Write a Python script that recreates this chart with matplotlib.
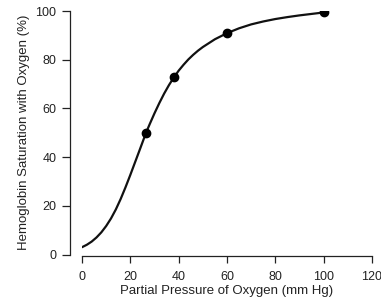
import matplotlib
matplotlib.use("Agg")
import matplotlib.pyplot as plt

# Curve
curve_x = [0, 2, 4, 6, 8, 10, 12, 14, 16, 18, 20, 22, 24, 26.5, 28, 30, 32, 34, 36, 38,
           40, 42, 44, 46, 48, 50, 55, 60, 65, 70, 75, 80, 85, 90, 95, 100]
curve_y = [3, 4, 5.3, 7.0, 9.1, 11.7, 14.8, 18.5, 22.8, 27.6, 32.7, 38.0, 43.3, 50, 53.5, 58, 62.2, 66.1, 69.6, 72.7,
           75.5, 77.9, 80.1, 82.0, 83.7, 85.2, 88.4, 90.9, 92.9, 94.5, 95.7, 96.7, 97.5, 98.2, 98.8, 99.4]

# Marked points
pts_x = [26.5, 38, 60, 100]
pts_y = [50, 72.8, 90.9, 99.4]

xticks = [0, 20, 40, 60, 80, 100, 120]
yticks = [0, 20, 40, 60, 80, 100]

plt.rcParams['font.family'] = ['Liberation Sans', 'DejaVu Sans']
col = '#222222'

fig = plt.figure(figsize=(3.81, 3.03), dpi=100)
ax = fig.add_axes([82/381, (303-254.5)/303, (372-82)/381, (254.5-11)/303])

ax.plot(curve_x, curve_y, color='#111111', lw=1.6, solid_capstyle='round', solid_joinstyle='round')
ax.plot(pts_x, pts_y, 'o', color='#000000', ms=6)

ax.set_xlim(0, 120)
ax.set_ylim(0, 100)
ax.set_xticks(xticks)
ax.set_yticks(yticks)

for s in ['top', 'right']:
    ax.spines[s].set_visible(False)
ax.spines['left'].set_position(('outward', 8.6))
ax.spines['bottom'].set_position(('outward', 1.1))
for s in ['left', 'bottom']:
    ax.spines[s].set_color(col)
    ax.spines[s].set_linewidth(0.9)

ax.tick_params(axis='both', direction='out', colors=col, width=0.9, labelsize=9, labelcolor=col)
ax.tick_params(axis='y', length=5.8, pad=4)
ax.tick_params(axis='x', length=5, pad=5.5)

ax.set_xlabel('Partial Pressure of Oxygen (mm Hg)', fontsize=9.5, color=col, labelpad=1.5)
ax.set_ylabel('Hemoglobin Saturation with Oxygen (%)', fontsize=9.5, color=col, labelpad=4)

fig.savefig('out.png', dpi=100)
